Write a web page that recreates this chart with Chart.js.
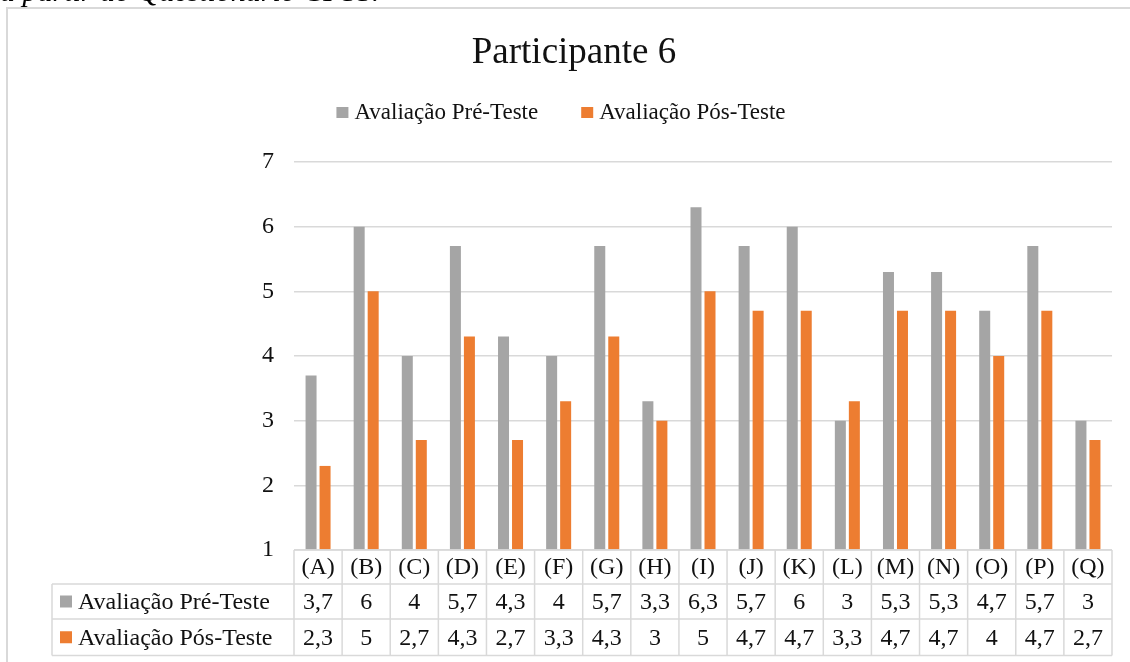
<!DOCTYPE html>
<html>
<head>
<meta charset="utf-8">
<script src="https://cdn.jsdelivr.net/npm/chart.js@4.4.1/dist/chart.umd.min.js"></script>
<style>
  html, body { margin: 0; padding: 0; background: #ffffff; overflow: hidden; }
  #wrap { position: relative; width: 1130px; height: 662px; }
  #chart { position: absolute; left: 0; top: 0; }
  #caption {
    position: absolute; left: 0; top: -24px;
    font: italic 30px "Liberation Serif", "Times New Roman", serif;
    line-height: 30px; white-space: nowrap; color: #000;
  }
</style>
</head>
<body>
<div id="wrap">
  <canvas id="chart" width="1130" height="662"></canvas>
  <div id="caption">a partir do Questionário CPSS.</div>
</div>
<script>
// Categories evaluated
const categories = ['(A)', '(B)', '(C)', '(D)', '(E)', '(F)', '(G)', '(H)', '(I)',
                    '(J)', '(K)', '(L)', '(M)', '(N)', '(O)', '(P)', '(Q)'];

// Scores before and after
const preTest  = [3.7, 6, 4, 5.7, 4.3, 4, 5.7, 3.3, 6.3, 5.7, 6, 3, 5.3, 5.3, 4.7, 5.7, 3];
const postTest = [2.3, 5, 2.7, 4.3, 2.7, 3.3, 4.3, 3, 5, 4.7, 4.7, 3.3, 4.7, 4.7, 4, 4.7, 2.7];

const seriesNames  = ['Avaliação Pré-Teste', 'Avaliação Pós-Teste'];
const seriesColors = ['#A5A5A5', '#ED7D31'];

const yMin = 1;
const yMax = 7;
const yStep = 1;

const chartTitle = 'Participante 6';

const SERIF = '"Liberation Serif", "Times New Roman", serif';
const TEXT = '#111111';
const LINE = '#D9D9D9';

const fmt = v => String(v).replace('.', ',');

// Frame, title, legend and the data table under the plot
const decorations = {
  id: 'decorations',
  beforeDraw(chart) {
    const ctx = chart.ctx;
    ctx.save();
    ctx.strokeStyle = LINE;
    ctx.lineWidth = 2;
    ctx.strokeRect(7, 8, 3000, 3000);
    ctx.restore();
  },
  afterDraw(chart) {
    const ctx = chart.ctx;
    const area = chart.chartArea;
    const x = chart.scales.x;
    ctx.save();

    // title
    ctx.fillStyle = TEXT;
    ctx.font = '37px ' + SERIF;
    ctx.textAlign = 'center';
    ctx.textBaseline = 'alphabetic';
    ctx.fillText(chartTitle, 574, 63);

    // legend
    ctx.font = '23px ' + SERIF;
    ctx.textAlign = 'left';
    const w0 = ctx.measureText(seriesNames[0]).width;
    const w1 = ctx.measureText(seriesNames[1]).width;
    const boxW = 12, textGap = 6, itemGap = 43;
    const total = boxW + textGap + w0 + itemGap + boxW + textGap + w1;
    let lx = 561 - total / 2;
    [w0, w1].forEach((w, i) => {
      ctx.fillStyle = seriesColors[i];
      ctx.fillRect(lx, 107, boxW, 11);
      ctx.fillStyle = TEXT;
      ctx.fillText(seriesNames[i], lx + boxW + textGap, 119);
      lx += boxW + textGap + w + itemGap;
    });

    // table
    const step = x.getPixelForValue(1) - x.getPixelForValue(0);
    const top = area.bottom;
    const rows = [top, top + 34, top + 69, top + 105.5];
    const labelLeft = 52;

    ctx.strokeStyle = LINE;
    ctx.lineWidth = 1.5;
    ctx.beginPath();
    // horizontal rules
    ctx.moveTo(area.left, rows[0]); ctx.lineTo(area.right, rows[0]);
    for (let r = 1; r < rows.length; r++) {
      ctx.moveTo(labelLeft, rows[r]); ctx.lineTo(area.right, rows[r]);
    }
    // column rules
    ctx.moveTo(labelLeft, rows[1]); ctx.lineTo(labelLeft, rows[3]);
    for (let i = 0; i <= categories.length; i++) {
      const cx = x.getPixelForValue(0) - step / 2 + i * step;
      ctx.moveTo(cx, rows[0]); ctx.lineTo(cx, rows[3]);
    }
    ctx.stroke();

    ctx.fillStyle = TEXT;
    ctx.font = '24px ' + SERIF;
    ctx.textAlign = 'center';
    ctx.textBaseline = 'middle';
    const mid = r => (rows[r] + rows[r + 1]) / 2 + 1;
    categories.forEach((c, i) => {
      const cx = x.getPixelForValue(i);
      ctx.fillText(c, cx, mid(0));
      ctx.fillText(fmt(preTest[i]), cx, mid(1));
      ctx.fillText(fmt(postTest[i]), cx, mid(2));
    });

    // row headers with series keys
    ctx.textAlign = 'left';
    [1, 2].forEach((r, i) => {
      ctx.fillStyle = seriesColors[i];
      ctx.fillRect(60, mid(r) - 7, 12, 12);
      ctx.fillStyle = TEXT;
      ctx.fillText(seriesNames[i], 78, mid(r));
    });

    ctx.restore();
  }
};

new Chart(document.getElementById('chart'), {
  type: 'bar',
  data: {
    labels: categories,
    datasets: [
      { label: seriesNames[0], data: preTest, backgroundColor: seriesColors[0], base: yMin,
        barPercentage: 0.786, categoryPercentage: 0.582 },
      { label: seriesNames[1], data: postTest, backgroundColor: seriesColors[1], base: yMin,
        barPercentage: 0.786, categoryPercentage: 0.582 }
    ]
  },
  options: {
    responsive: false,
    animation: false,
    devicePixelRatio: 1,
    layout: { padding: { top: 162, right: 18, bottom: 112, left: 0 } },
    plugins: {
      legend: { display: false },
      title: { display: false },
      tooltip: { enabled: false }
    },
    scales: {
      x: { display: false },
      y: {
        min: yMin,
        max: yMax,
        ticks: {
          stepSize: yStep,
          padding: 20,
          color: TEXT,
          font: { family: SERIF, size: 24 }
        },
        grid: { color: LINE, lineWidth: 1.5, drawTicks: false },
        border: { display: false },
        afterFit(scale) { scale.width = 294; }
      }
    }
  },
  plugins: [decorations]
});
</script>
</body>
</html>
